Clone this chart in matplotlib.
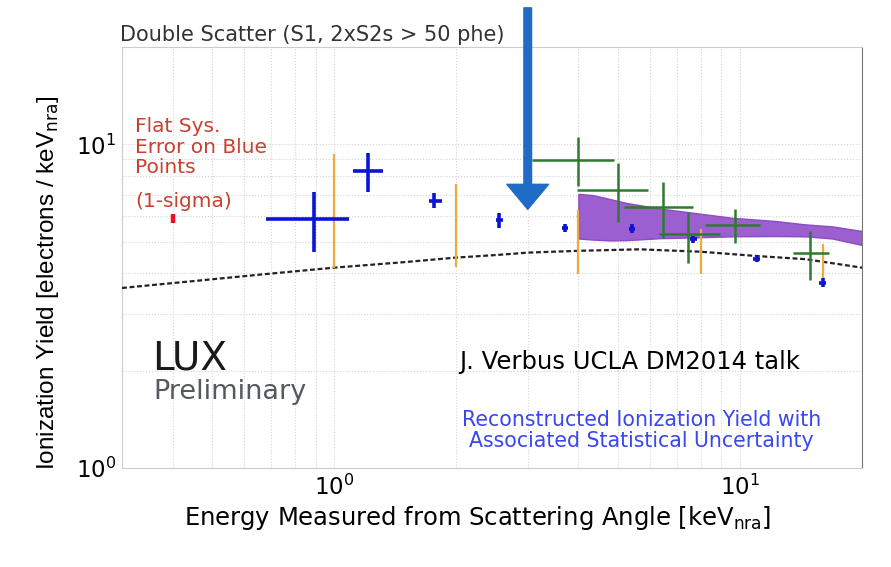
import numpy as np
import matplotlib
matplotlib.use("Agg")
import matplotlib.pyplot as plt
from matplotlib.ticker import FixedLocator, FixedFormatter, NullFormatter

plt.rcParams['font.family'] = ['DejaVu Sans']
plt.rcParams['mathtext.fontset'] = 'dejavusans'

# reconstructed ionization yield (statistical errors)
blue_x = [0.89, 1.21, 1.76, 2.55, 3.71, 5.43, 7.68, 11.0, 16.0]
blue_y = [5.89, 8.30, 6.68, 5.84, 5.50, 5.47, 5.09, 4.42, 3.74]
blue_y_lo = [4.66, 7.13, 6.34, 5.53, 5.36, 5.32, 4.97, 4.32, 3.63]
blue_y_hi = [7.11, 9.40, 7.06, 6.13, 5.66, 5.66, 5.20, 4.52, 3.86]
blue_x_lo = [0.68, 1.11, 1.71, 2.50, 3.64, 5.33, 7.53, 10.8, 15.7]
blue_x_hi = [1.09, 1.32, 1.84, 2.60, 3.78, 5.53, 7.83, 11.2, 16.3]

# systematic bands at the fixed energies
sys_x = [1.0, 2.0, 4.0, 8.0, 16.0]
sys_lo = [4.16, 4.18, 3.99, 3.99, 3.70]
sys_hi = [9.33, 7.55, 6.25, 5.49, 4.91]

# earlier measurement (green crosses)
green_x = [4.0, 5.0, 6.47, 7.45, 9.73, 14.85]
green_y = [8.92, 7.23, 6.40, 5.29, 5.63, 4.61]
green_y_lo = [7.43, 5.76, 5.12, 4.30, 4.97, 3.81]
green_y_hi = [10.53, 8.78, 7.64, 6.20, 6.32, 5.40]
green_x_lo = [3.07, 3.97, 5.18, 6.31, 8.21, 13.5]
green_x_hi = [4.89, 5.94, 7.68, 8.95, 11.2, 16.6]

# purple band
band_x = [4.0, 4.35, 4.78, 5.26, 6.33, 7.65, 9.6, 12.2, 14.5, 16.9, 20.0]
band_top = [7.03, 6.97, 6.78, 6.59, 6.34, 6.15, 5.93, 5.80, 5.66, 5.58, 5.40]
band_bot = [5.12, 5.08, 5.05, 5.06, 5.13, 5.16, 5.20, 5.21, 5.20, 5.12, 4.89]

# model curve (dashed)
curve_x = [0.3, 0.5, 0.7, 1.0, 1.5, 2.0, 2.5, 3.0, 4.0, 5.66, 8.0, 11.0, 14.5, 20.0]
curve_y = [3.60, 3.83, 3.99, 4.16, 4.33, 4.47, 4.55, 4.63, 4.69, 4.74, 4.66, 4.52, 4.42, 4.16]

# flat systematic marker
flat_x = [0.4]
flat_lo = [5.71]
flat_hi = [6.10]

arrow_x = 3.0
arrow_tip = 6.3

fig = plt.figure(figsize=(8.91, 5.67), dpi=100)
ax = fig.add_axes([122 / 891, 1 - 468 / 567, 740 / 891, 421 / 567])
ax.set_xscale('log')
ax.set_yscale('log')
ax.set_xlim(0.3, 20)
ax.set_ylim(1, 20)

# grid like MATLAB: dotted light lines at every decade subdivision
ax.xaxis.set_major_locator(FixedLocator([1, 10]))
ax.yaxis.set_major_locator(FixedLocator([1, 10]))
ax.xaxis.set_minor_locator(FixedLocator([0.3, 0.4, 0.5, 0.6, 0.7, 0.8, 0.9, 2, 3, 4, 5, 6, 7, 8, 9]))
ax.yaxis.set_minor_locator(FixedLocator([2, 3, 4, 5, 6, 7, 8, 9]))
ax.xaxis.set_major_formatter(FixedFormatter([r'$10^{0}$', r'$10^{1}$']))
ax.yaxis.set_major_formatter(FixedFormatter([r'$10^{0}$', r'$10^{1}$']))
ax.xaxis.set_minor_formatter(NullFormatter())
ax.yaxis.set_minor_formatter(NullFormatter())
ax.grid(True, which='both', color='#d4d4d4', linestyle=':', linewidth=0.8)
ax.tick_params(which='both', length=0, labelsize=16.5)
ax.tick_params(axis='x', pad=5)
ax.tick_params(axis='y', pad=4)
for side in ['top', 'left', 'bottom']:
    ax.spines[side].set_color('#cccccc')
ax.spines['right'].set_color('#777777')

ax.fill_between(band_x, band_bot, band_top, color='#9b5fcf', edgecolor='#8a4cc0',
                linewidth=1, zorder=2)

ax.plot(curve_x, curve_y, color='#222222', linestyle=(0, (2.2, 1.2)), linewidth=1.6, zorder=3)

ax.vlines(sys_x, sys_lo, sys_hi, color='#f0aa3c', linewidth=1.6, zorder=4)

gx = np.array(green_x)
gy = np.array(green_y)
ax.errorbar(gx, gy,
            yerr=[gy - np.array(green_y_lo), np.array(green_y_hi) - gy],
            xerr=[gx - np.array(green_x_lo), np.array(green_x_hi) - gx],
            fmt='none', ecolor='#2f7a2f', elinewidth=1.8, capsize=0, zorder=5)

bx = np.array(blue_x)
by = np.array(blue_y)
ax.errorbar(bx, by,
            yerr=[by - np.array(blue_y_lo), np.array(blue_y_hi) - by],
            xerr=[bx - np.array(blue_x_lo), np.array(blue_x_hi) - bx],
            fmt='none', ecolor='#0a14d8', elinewidth=2.6, capsize=0, zorder=6)

ax.vlines(flat_x, flat_lo, flat_hi, color='#e8141e', linewidth=3.2, zorder=6)

ax.annotate('', xy=(arrow_x, arrow_tip), xytext=(arrow_x, 1.093),
            xycoords='data', textcoords=('data', 'axes fraction'),
            annotation_clip=False,
            arrowprops=dict(width=5.5, headwidth=30, headlength=18, shrink=0,
                            facecolor='#1e6cc6', edgecolor='#1e6cc6'),
            zorder=7)

ax.set_xlabel(r'Energy Measured from Scattering Angle [keV$_{\mathrm{nra}}$]', fontsize=17.5)
ax.xaxis.label.set_va('baseline')
ax.xaxis.set_label_coords(0.481, -0.135)
ax.set_ylabel(r'Ionization Yield [electrons / keV$_{\mathrm{nra}}$]', fontsize=17.5,
              family='Liberation Sans')
ax.yaxis.set_label_coords(-0.082, 0.44)


def px(x, y):
    return x / 891, 1 - y / 567


fig.text(*px(120, 40.7), 'Double Scatter (S1, 2xS2s > 50 phe)', fontsize=15,
         color='#333333', va='baseline', ha='left')

red = '#c8402e'
for line, base in [('Flat Sys.', 131.7), ('Error on Blue', 153.3),
                   ('Points', 173.3), ('(1-sigma)', 206.7)]:
    fig.text(*px(135, base), line, fontsize=14.5, color=red, va='baseline', ha='left')

fig.text(*px(152, 369), 'LUX', fontsize=28, color='#1a1a1a', va='baseline', ha='left')
fig.text(*px(153, 399), 'Preliminary', fontsize=19.5, color='#555a60',
         va='baseline', ha='left')

fig.text(*px(459, 369.3), 'J. Verbus UCLA DM2014 talk', fontsize=17.5, color='black',
         va='baseline', ha='left')

blue_txt = '#3a46f0'
fig.text(*px(641.7, 425.7), 'Reconstructed Ionization Yield with', fontsize=14.8,
         color=blue_txt, va='baseline', ha='center')
fig.text(*px(641.7, 446.7), 'Associated Statistical Uncertainty', fontsize=14.8,
         color=blue_txt, va='baseline', ha='center')

fig.savefig('out.png', dpi=100)
